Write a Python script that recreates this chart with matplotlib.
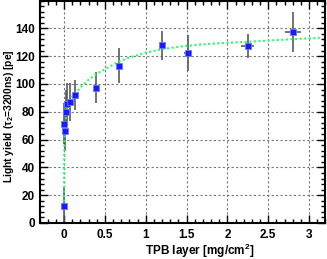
import matplotlib.pyplot as plt
from matplotlib.ticker import MultipleLocator

plt.rcParams['font.family'] = ['Liberation Sans', 'DejaVu Sans']
plt.rcParams['font.weight'] = 'bold'
plt.rcParams['mathtext.default'] = 'regular'

# measured points
tpb = [0.0, 0.0, 0.01, 0.02, 0.04, 0.075, 0.134, 0.39, 0.67, 1.20, 1.52, 2.25, 2.80]
light = [12.5, 71.5, 66.0, 80.0, 85.5, 87.0, 92.0, 97.3, 113.0, 127.8, 122.0, 127.1, 137.5]
light_err = [13, 15, 14, 16, 15, 14, 11, 11, 12.5, 10.5, 13, 8.5, 14.5]
tpb_err = [0.0, 0.0, 0.0, 0.0, 0.0, 0.0, 0.0, 0.0, 0.0, 0.02, 0.05, 0.08, 0.1]

# fit curve
fit_x = [0.0, 0.002, 0.005, 0.01, 0.02, 0.04, 0.07, 0.1, 0.14, 0.2, 0.3, 0.39, 0.5,
         0.67, 0.8, 1.0, 1.2, 1.44, 1.7, 2.0, 2.25, 2.5, 2.8, 3.13]
fit_y = [12.0, 45.0, 60.0, 68.0, 75.0, 82.0, 88.0, 91.0, 93.0, 97.5, 103.0, 107.0, 110.5,
         116.0, 119.0, 122.5, 125.0, 127.0, 128.5, 129.6, 130.3, 131.2, 132.2, 133.1]

fig = plt.figure(figsize=(3.27, 2.59), dpi=100)
ax = fig.add_axes([0.121, 0.139, 0.874, 0.859])

ax.errorbar(tpb, light, yerr=light_err, xerr=tpb_err, fmt='none',
            ecolor='#5a5a5a', elinewidth=1.2, capsize=0, zorder=2)
ax.plot(fit_x, fit_y, linestyle=(0, (1, 1.2)), color='#22ff66', lw=1.5, zorder=3)
ax.plot(tpb, light, 's', color='#1a1aff', markersize=5,
        markeredgecolor='#6a7aff', markeredgewidth=0.6, zorder=4)

ax.set_xlim(-0.3, 3.2)
ax.set_ylim(0, 160)
ax.xaxis.set_major_locator(MultipleLocator(0.5))
ax.xaxis.set_minor_locator(MultipleLocator(0.1))
ax.yaxis.set_major_locator(MultipleLocator(20))
ax.yaxis.set_minor_locator(MultipleLocator(4))
ax.set_yticks([0, 20, 40, 60, 80, 100, 120, 140])
ax.set_xticks([0, 0.5, 1, 1.5, 2, 2.5, 3])
ax.set_xticklabels(['0', '0.5', '1', '1.5', '2', '2.5', '3'])
ax.tick_params(which='both', direction='in', top=True, right=True, labelsize=8.5, width=1)
ax.tick_params(which='major', length=6)
ax.tick_params(which='minor', length=3)
ax.tick_params(axis='x', pad=4)
ax.grid(True, which='major', linestyle=(0, (2, 2)), color='#777777', lw=0.8)
for s in ax.spines.values():
    s.set_linewidth(1.5)

fig.text(0.612, 0.03, 'TPB layer [mg/cm$^2$]', ha='center', va='center',
         fontsize=8.5, fontweight='bold')
fig.text(0.026, 0.552, 'Light yield (τ$_2$=3200ns) [pe]', ha='center', va='center',
         rotation=90, fontsize=7.4, fontweight='bold')

fig.savefig('out.png', dpi=100)
